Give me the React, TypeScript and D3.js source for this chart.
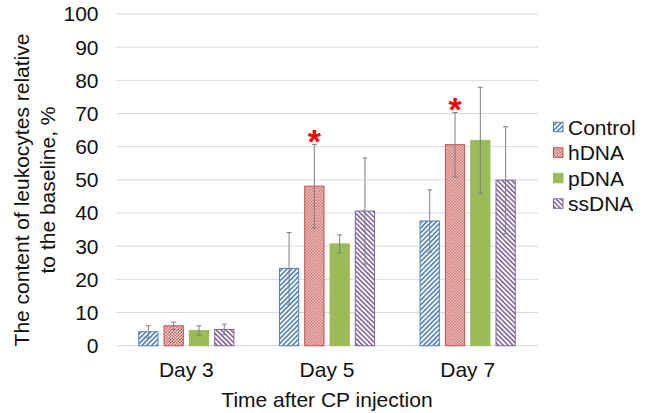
import React from "react";
import * as d3 from "d3";

const days = ["Day 3", "Day 5", "Day 7"];
const series = ["Control", "hDNA", "pDNA", "ssDNA"];
const controlValues = [4.2, 23.3, 37.6];
const hdnaValues = [6.0, 48.1, 60.6];
const pdnaValues = [4.6, 30.7, 61.9];
const ssdnaValues = [4.9, 40.6, 49.9];
const controlErr = [1.8, 10.8, 9.4];
const hdnaErr = [1.1, 12.6, 9.7];
const pdnaErr = [1.4, 2.7, 16.0];
const ssdnaErr = [1.6, 16.0, 16.1];
const significant = [
  { day: "Day 5", series: "hDNA" },
  { day: "Day 7", series: "hDNA" },
];
const yTicks = [0, 10, 20, 30, 40, 50, 60, 70, 80, 90, 100];

const values: Record<string, number[]> = {
  Control: controlValues,
  hDNA: hdnaValues,
  pDNA: pdnaValues,
  ssDNA: ssdnaValues,
};
const errors: Record<string, number[]> = {
  Control: controlErr,
  hDNA: hdnaErr,
  pDNA: pdnaErr,
  ssDNA: ssdnaErr,
};

const colors: Record<string, string> = {
  Control: "#4f81bd",
  hDNA: "#c0504d",
  pDNA: "#9bbb59",
  ssDNA: "#8064a2",
};
const fills: Record<string, string> = {
  Control: "url(#pCtrl)",
  hDNA: "url(#pH)",
  pDNA: "#9bbb59",
  ssDNA: "url(#pSs)",
};

const FONT = "'Liberation Sans', Arial, sans-serif";
const FS = 21;

export default function App() {
  const left = 116,
    right = 538,
    top = 14,
    bottom = 345.7;
  const x0 = d3.scaleBand<string>().domain(days).range([left, right]).padding(0);
  const x1 = d3
    .scaleBand<string>()
    .domain(series)
    .range([0, x0.bandwidth()])
    .paddingInner(0.2)
    .paddingOuter(0.88);
  const y = d3.scaleLinear().domain([0, 100]).range([bottom, top]);

  const legendY = [127.3, 152.8, 178.3, 203.8];

  return (
    <svg
      width={649}
      height={413}
      style={{ position: "absolute", left: 0, top: 0, background: "#fff" }}
      fontFamily={FONT}
    >
      <defs>
        <pattern id="pCtrl" width={3.4} height={3.4} patternUnits="userSpaceOnUse" patternTransform="rotate(45)">
          <rect width={3.4} height={3.4} fill="#fff" />
          <rect width={1.6} height={3.4} fill="#4f81bd" />
        </pattern>
        <pattern id="pSs" width={3.4} height={3.4} patternUnits="userSpaceOnUse" patternTransform="rotate(-45)">
          <rect width={3.4} height={3.4} fill="#fff" />
          <rect width={1.6} height={3.4} fill="#8064a2" />
        </pattern>
        <pattern id="pH" width={3} height={3} patternUnits="userSpaceOnUse">
          <rect width={3} height={3} fill="#f5dcdb" />
          <rect width={1.5} height={1.5} fill="#c8605d" />
          <rect x={1.5} y={1.5} width={1.5} height={1.5} fill="#c8605d" />
        </pattern>
      </defs>

      {yTicks.map((t) => (
        <g key={t}>
          <line x1={left} x2={right} y1={y(t)} y2={y(t)} stroke="#d9d9d9" strokeWidth={1} />
          <text x={98.5} y={y(t)} dy="0.35em" textAnchor="end" fontSize={FS} fill="#111">
            {t}
          </text>
        </g>
      ))}

      {days.map((day, di) => (
        <g key={day} transform={`translate(${x0(day)},0)`}>
          {series.map((s) => {
            const v = values[s][di];
            const e = errors[s][di];
            const bx = x1(s)!;
            const bw = x1.bandwidth();
            const cx = bx + bw / 2;
            return (
              <g key={s}>
                <rect
                  x={bx + 0.5}
                  y={y(v)}
                  width={bw - 1}
                  height={y(0) - y(v)}
                  fill={fills[s]}
                  stroke={colors[s]}
                  strokeWidth={1}
                />
                <line x1={cx} x2={cx} y1={y(v + e)} y2={y(v - e)} stroke="#7f7f7f" strokeWidth={1} />
                <line x1={cx - 2.5} x2={cx + 2.5} y1={y(v + e)} y2={y(v + e)} stroke="#7f7f7f" strokeWidth={1} />
                <line x1={cx - 2.5} x2={cx + 2.5} y1={y(v - e)} y2={y(v - e)} stroke="#7f7f7f" strokeWidth={1} />
              </g>
            );
          })}
          <text
            x={x0.bandwidth() / 2}
            y={377}
            textAnchor="middle"
            fontSize={FS}
            fill="#111"
          >
            {day}
          </text>
        </g>
      ))}

      {significant.map((sg) => {
        const di = days.indexOf(sg.day);
        const v = values[sg.series][di] + errors[sg.series][di];
        const cx = x0(sg.day)! + x1(sg.series)! + x1.bandwidth() / 2;
        const cy = y(v) - 11.7;
        const F = 34;
        return (
          <text
            key={sg.day}
            x={cx}
            y={cy + 0.6 * F}
            textAnchor="middle"
            fontSize={F}
            fontWeight="bold"
            fill="#ff0000"
          >
            *
          </text>
        );
      })}

      <text x={(left + right) / 2} y={406.5} textAnchor="middle" fontSize={FS} fill="#111">
        Time after CP injection
      </text>

      <g transform="translate(28.5,190) rotate(-90)">
        <text x={0} y={0} textAnchor="middle" fontSize={FS} fill="#111">
          The content of leukocytes relative
        </text>
        <text x={0} y={26.5} textAnchor="middle" fontSize={FS} fill="#111">
          to the baseline, %
        </text>
      </g>

      {series.map((s, i) => (
        <g key={s}>
          <rect
            x={553.5}
            y={legendY[i] - 5}
            width={9.5}
            height={9.5}
            fill={fills[s]}
            stroke={colors[s]}
            strokeWidth={1}
          />
          <text x={568} y={legendY[i]} dy="0.35em" fontSize={FS} fill="#111">
            {s}
          </text>
        </g>
      ))}
    </svg>
  );
}
